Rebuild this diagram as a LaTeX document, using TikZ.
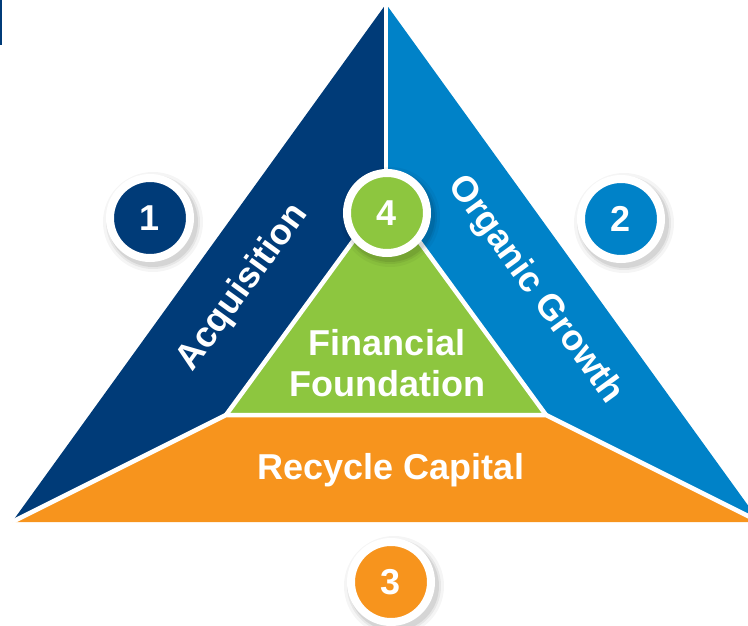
\documentclass[tikz,border=0pt]{standalone}
\usepackage{fontspec}
\setmainfont{Liberation Sans}
\usetikzlibrary{calc}

\definecolor{azulescuro}{RGB}{0,59,120}
\definecolor{azul}{RGB}{0,130,200}
\definecolor{verde}{RGB}{141,198,63}
\definecolor{laranja}{RGB}{247,148,29}

\tikzset{
    rotulo/.style={text=white, font=\fontsize{36}{41}\selectfont\bfseries, align=center},
    disco/.style={circle, fill=#1, draw=white, line width=8pt, minimum size=80pt,
        inner sep=0pt, text=white, font=\fontsize{36}{40}\selectfont\bfseries},
    separador/.style={white, line width=4.5pt, line join=miter}
}

\begin{document}
\begin{tikzpicture}[x=1pt,y=-1pt]
        \useasboundingbox (0,0) rectangle (748,625);
        \clip (0,0) rectangle (748,625);

        % barra no canto
        \fill[azulescuro] (0,0) rectangle (1.5,45);

        % definir vertices
        \coordinate (A) at (386,4);
        \coordinate (BL) at (12,522);
        \coordinate (BR) at (760,522);
        \coordinate (G) at (386,196);
        \coordinate (GL) at (226,415);
        \coordinate (GR) at (546,415);

        % regioes
        \fill[azulescuro] (A) -- (G) -- (GL) -- (BL) -- cycle;
        \fill[azul] (A) -- (G) -- (GR) -- (BR) -- cycle;
        \fill[verde] (G) -- (GL) -- (GR) -- cycle;
        \fill[laranja] (GL) -- (GR) -- (BR) -- (BL) -- cycle;

        % linhas brancas
        \draw[separador] (A) -- (G);
        \draw[separador] (GL) -- (G) -- (GR);
        \draw[separador] (BL) -- (GL) -- (GR) -- (BR);

        % textos
        \node[rotulo, rotate=54] (acq) at (243,288) {Acquisition};
        \node[rotulo, rotate=-54] (org) at (535,290) {Organic Growth};
        \node[rotulo] (fin) at (387,363) {Financial\\Foundation};
        \node[rotulo] (rec) at (391,470) {Recycle Capital};

        % sombras dos discos
        \foreach \x/\y in {150/218, 621/219, 391/582, 387/213}{
            \foreach \r/\o in {50/0.04, 47/0.06, 45/0.08}
                \fill[black, opacity=\o] (\x+3,\y+4) circle (\r pt);
        }

        % discos numerados
        \node[disco=azulescuro] (n1) at (150,218) {1};
        \node[disco=azul] (n2) at (621,219) {2};
        \node[disco=laranja] (n3) at (391,582) {3};
        \node[disco=verde] (n4) at (387,213) {4};
    \end{tikzpicture}
\end{document}
